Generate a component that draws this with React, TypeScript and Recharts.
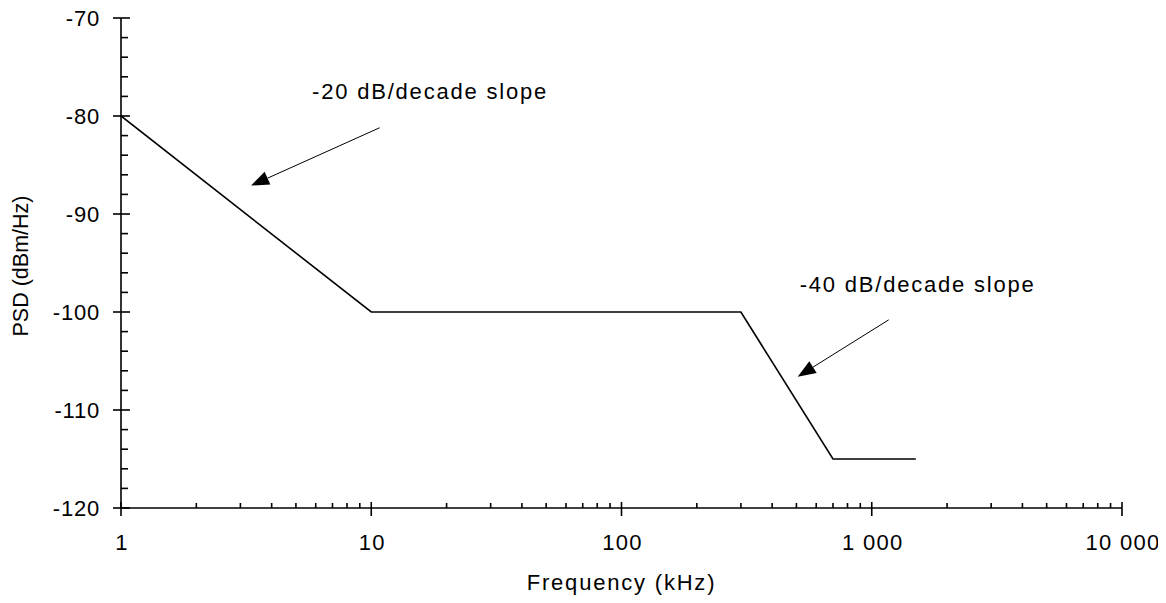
import React from "react";
import {
  LineChart,
  Line,
  XAxis,
  YAxis,
  ReferenceLine,
  ReferenceDot,
  Label,
} from "recharts";

// PSD mask (log frequency axis)
const freqKHz = [1, 10, 300, 700, 1500];
const psdDbm = [-80, -100, -100, -115, -115];

const xMajorTicks = [1, 10, 100, 1000, 10000];
const xMinorSteps = [2, 3, 4, 5, 6, 7, 8, 9];
const yMajorTicks = [-120, -110, -100, -90, -80, -70];
const yMinorTicks = [-118, -116, -114, -112, -108, -106, -104, -102, -98, -96, -94, -92, -88, -86, -84, -82, -78, -76, -74, -72];

// annotations: text anchor (left edge) and arrow tail -> tip, in data units
const noteTexts = ["-20 dB/decade slope", "-40 dB/decade slope"];
const noteAt = [
  { x: 5.8, y: -77.45 },
  { x: 515, y: -97.15 },
];
const arrowTail = [
  { x: 10.8, y: -81.2 },
  { x: 1169, y: -100.8 },
];
const arrowTip = [
  { x: 3.31, y: -87.1 },
  { x: 506, y: -106.6 },
];

const data = freqKHz.map((f, i) => ({ f, psd: psdDbm[i] }));
const xAllTicks = [
  ...xMajorTicks,
  ...xMajorTicks.slice(0, -1).flatMap((d) => xMinorSteps.map((m) => m * d)),
].sort((a, b) => a - b);
const yAllTicks = [...yMajorTicks, ...yMinorTicks].sort((a, b) => a - b);

const FONT = "'Liberation Sans', Arial, Helvetica, sans-serif";
const fmtFreq = (v: number) => String(v).replace(/\B(?=(\d{3})+(?!\d))/g, " ");

function XTick(props: any) {
  const { x, y, payload } = props;
  const major = xMajorTicks.includes(payload.value);
  return (
    <g>
      {major ? (
        <line x1={x} x2={x} y1={y - 6} y2={y + 8} stroke="#000" strokeWidth={1.6} />
      ) : (
        <line x1={x} x2={x} y1={y - 5} y2={y} stroke="#000" strokeWidth={1.6} />
      )}
      {major && (
        <text x={x + 1} y={y + 42} textAnchor="middle" fontFamily={FONT} fontSize={22} letterSpacing={1.3} fill="#000">
          {fmtFreq(payload.value)}
        </text>
      )}
    </g>
  );
}

function YTick(props: any) {
  const { x, y, payload } = props;
  const major = yMajorTicks.includes(payload.value);
  return (
    <g>
      {major ? (
        <line x1={x - 8} x2={x + 9} y1={y} y2={y} stroke="#000" strokeWidth={1.6} />
      ) : (
        <line x1={x} x2={x + 7} y1={y} y2={y} stroke="#000" strokeWidth={1.6} />
      )}
      {major && (
        <text x={x - 21} y={y} dy="0.36em" textAnchor="end" fontFamily={FONT} fontSize={22} letterSpacing={0.8} fill="#000">
          {payload.value}
        </text>
      )}
    </g>
  );
}

function ArrowShape(props: any) {
  const { x1, y1, x2, y2 } = props;
  const dx = x2 - x1;
  const dy = y2 - y1;
  const len = Math.sqrt(dx * dx + dy * dy) || 1;
  const ux = dx / len;
  const uy = dy / len;
  const head = 18;
  const half = 7;
  const bx = x2 - ux * head;
  const by = y2 - uy * head;
  return (
    <g>
      <line x1={x1} y1={y1} x2={bx} y2={by} stroke="#000" strokeWidth={1} />
      <polygon
        points={`${x2},${y2} ${bx - uy * half},${by + ux * half} ${bx + uy * half},${by - ux * half}`}
        fill="#000"
      />
    </g>
  );
}

export default function App() {
  return (
    <div style={{ width: 1166, height: 603, margin: -8, background: "#fff" }}>
      <LineChart
        width={1166}
        height={603}
        data={data}
        margin={{ top: 18, right: 44, bottom: 45, left: 61 }}
      >
        <XAxis
          dataKey="f"
          type="number"
          scale="log"
          domain={[1, 10000]}
          ticks={xAllTicks}
          interval={0}
          allowDataOverflow
          height={50}
          tickLine={false}
          tickSize={0}
          tickMargin={0}
          axisLine={{ stroke: "#000", strokeWidth: 1.6 }}
          tick={(p: any) => <XTick {...p} />}
        >
          <Label
            content={(p: any) => {
              const vb = p.viewBox;
              return (
                <text x={vb.x + vb.width / 2} y={vb.y + 82} textAnchor="middle" fontFamily={FONT} fontSize={22} letterSpacing={1.8} fill="#000">
                  Frequency (kHz)
                </text>
              );
            }}
          />
        </XAxis>
        <YAxis
          type="number"
          domain={[-120, -70]}
          ticks={yAllTicks}
          interval={0}
          width={60}
          tickLine={false}
          tickSize={0}
          tickMargin={0}
          axisLine={{ stroke: "#000", strokeWidth: 1.6 }}
          tick={(p: any) => <YTick {...p} />}
        >
          <Label
            content={(p: any) => {
              const vb = p.viewBox;
              const cx = 20.5;
              const cy = vb.y + vb.height / 2 + 3;
              return (
                <text x={cx} y={cy} dy="0.36em" transform={`rotate(-90, ${cx}, ${cy})`} textAnchor="middle" fontFamily={FONT} fontSize={21.5} fill="#000">
                  PSD (dBm/Hz)
                </text>
              );
            }}
          />
        </YAxis>
        <Line
          type="linear"
          dataKey="psd"
          stroke="#000"
          strokeWidth={1.6}
          dot={false}
          activeDot={false}
          isAnimationActive={false}
        />
        {arrowTail.map((t, i) => (
          <ReferenceLine
            key={`arrow-${i}`}
            segment={[t, arrowTip[i]]}
            ifOverflow="visible"
            shape={(p: any) => <ArrowShape {...p} />}
          />
        ))}
        {noteAt.map((n, i) => (
          <ReferenceDot
            key={`note-${i}`}
            x={n.x}
            y={n.y}
            r={0}
            ifOverflow="visible"
            shape={(p: any) => (
              <text x={p.cx} y={p.cy} dy="0.36em" textAnchor="start" fontFamily={FONT} fontSize={22} letterSpacing={1.8} fill="#000">
                {noteTexts[i]}
              </text>
            )}
          />
        ))}
      </LineChart>
    </div>
  );
}
